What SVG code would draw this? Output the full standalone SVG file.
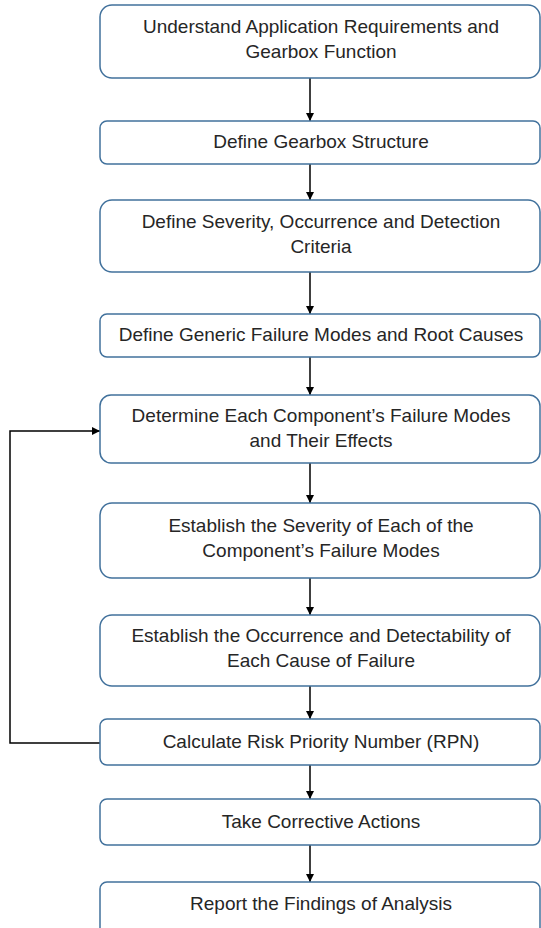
<svg xmlns="http://www.w3.org/2000/svg" width="541" height="928" viewBox="0 0 541 928">
<defs>
<marker id="ah" viewBox="0 0 10 10" refX="10" refY="5" markerWidth="8" markerHeight="8" markerUnits="userSpaceOnUse" orient="auto">
<path d="M0,0 L10,5 L0,10 Z" fill="#000"/>
</marker>
<style>
.box{fill:#fff;stroke:#41719C;stroke-width:1.5}
.t{font-family:"Liberation Sans",Arial,sans-serif;font-size:19px;fill:#262626;text-anchor:middle}
.c{fill:none;stroke:#000;stroke-width:1.5}
</style>
</defs>
<rect width="541" height="928" fill="#fff"/>
<g id="connectors">
<path class="c" d="M310,78 V121" marker-end="url(#ah)"/>
<path class="c" d="M310,164 V200" marker-end="url(#ah)"/>
<path class="c" d="M310,272 V314" marker-end="url(#ah)"/>
<path class="c" d="M310,357 V395" marker-end="url(#ah)"/>
<path class="c" d="M310,463 V503" marker-end="url(#ah)"/>
<path class="c" d="M310,578 V615" marker-end="url(#ah)"/>
<path class="c" d="M310,686 V719" marker-end="url(#ah)"/>
<path class="c" d="M310,765 V799" marker-end="url(#ah)"/>
<path class="c" d="M310,845 V882" marker-end="url(#ah)"/>
<path class="c" d="M100,743 H10 V431 H100" marker-end="url(#ah)"/>
</g>
<g id="n1"><rect class="box" x="100" y="5" width="440" height="73" rx="12"/>
<text class="t" x="321" y="33">Understand Application Requirements and</text>
<text class="t" x="321" y="58">Gearbox Function</text></g>
<g id="n2"><rect class="box" x="100" y="121" width="440" height="43" rx="7"/>
<text class="t" x="321" y="148">Define Gearbox Structure</text></g>
<g id="n3"><rect class="box" x="100" y="200" width="440" height="72" rx="12"/>
<text class="t" x="321" y="227.5">Define Severity, Occurrence and Detection</text>
<text class="t" x="321" y="252.5">Criteria</text></g>
<g id="n4"><rect class="box" x="100" y="314" width="440" height="43" rx="7"/>
<text class="t" x="321" y="341">Define Generic Failure Modes and Root Causes</text></g>
<g id="n5"><rect class="box" x="100" y="395" width="440" height="68" rx="11"/>
<text class="t" x="321" y="422">Determine Each Component’s Failure Modes</text>
<text class="t" x="321" y="447">and Their Effects</text></g>
<g id="n6"><rect class="box" x="100" y="503" width="440" height="75" rx="12"/>
<text class="t" x="321" y="532">Establish the Severity of Each of the</text>
<text class="t" x="321" y="557">Component’s Failure Modes</text></g>
<g id="n7"><rect class="box" x="100" y="615" width="440" height="71" rx="12"/>
<text class="t" x="321" y="642">Establish the Occurrence and Detectability of</text>
<text class="t" x="321" y="667">Each Cause of Failure</text></g>
<g id="n8"><rect class="box" x="100" y="719" width="440" height="46" rx="7"/>
<text class="t" x="321" y="747.5">Calculate Risk Priority Number (RPN)</text></g>
<g id="n9"><rect class="box" x="100" y="799" width="440" height="46" rx="7"/>
<text class="t" x="321" y="827.5">Take Corrective Actions</text></g>
<g id="n10"><rect class="box" x="100" y="882" width="440" height="54" rx="7"/>
<text class="t" x="321" y="910">Report the Findings of Analysis</text></g>
</svg>
